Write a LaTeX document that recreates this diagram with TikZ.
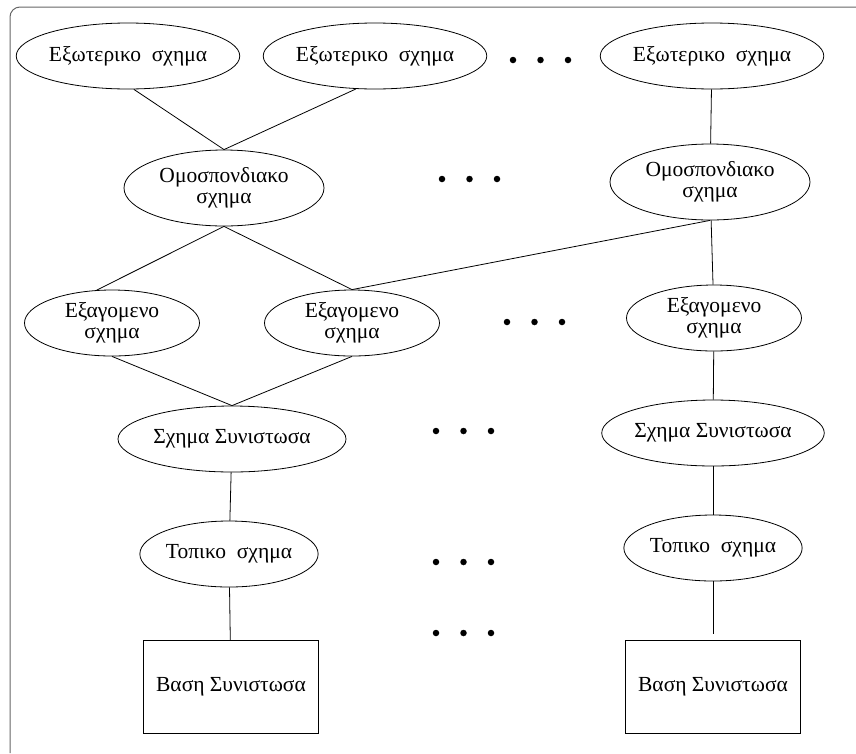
\documentclass[tikz,border=0pt]{standalone}
\usepackage{fontspec}
\setmainfont{Liberation Serif}
\usetikzlibrary{shapes.geometric}

\begin{document}
\begin{tikzpicture}[
  x=1pt, y=-1pt,
  line width=0.8pt,
  schema_node/.style={ellipse, draw, inner sep=0pt, minimum height=66pt, align=center,
    font=\fontsize{21.5pt}{21pt}\selectfont},
  base_node/.style={rectangle, draw, inner sep=0pt, minimum width=175pt, minimum height=93pt,
    font=\fontsize{21.5pt}{21pt}\selectfont},
  dot_node/.style={circle, fill, inner sep=0pt, minimum size=6.5pt},
]
\useasboundingbox (0,0) rectangle (856,753);
% frame
\draw[black!60, line width=1pt, rounded corners=10pt] (10,753) -- (10,7) -- (856,7);

% external schemata
\draw (128,56) node (E1) [schema_node, minimum width=218pt] {Εξωτερικο\ \ σχημα};
\draw (375,56) node (E2) [schema_node, minimum width=220pt] {Εξωτερικο\ \ σχημα};
\draw (712,56) node (E3) [schema_node, minimum width=220pt] {Εξωτερικο\ \ σχημα};

% federated schemata
\draw (224,188) node (O1) [schema_node, minimum width=200pt, minimum height=76pt] {Ομοσπονδιακο\\σχημα};
\draw (710,182) node (O2) [schema_node, minimum width=200pt, minimum height=76pt] {Ομοσπονδιακο\\σχημα};

% export schemata
\draw (112,323) node (X1) [schema_node, minimum width=175pt] {Εξαγομενο\\σχημα};
\draw (352,323) node (X2) [schema_node, minimum width=175pt] {Εξαγομενο\\σχημα};
\draw (714,318) node (X3) [schema_node, minimum width=175pt] {Εξαγομενο\\σχημα};

% component schemata
\draw (232,439) node (S1) [schema_node, minimum width=228pt] {Σχημα Συνιστωσα};
\draw (713,433) node (S2) [schema_node, minimum width=220pt] {Σχημα Συνιστωσα};

% local schemata
\draw (229,554) node (T1) [schema_node, minimum width=175pt] {Τοπικο\ \ σχημα};
\draw (713,548) node (T2) [schema_node, minimum width=175pt] {Τοπικο\ \ σχημα};

% component databases
\draw (231,687) node (B1) [base_node] {Βαση Συνιστωσα};
\draw (713,687) node (B2) [base_node] {Βαση Συνιστωσα};

% dots
\foreach \row/\y/\xa in {a/60/513, b/179/442, c/322/507, d/431/436, e/562/436, f/633/436}
  \foreach \i in {0,1,2}
    \draw (\xa+27.5*\i,\y) node (dot\row\i) [dot_node] {};

% connectors
\draw (E1.280) -- (O1.north);
\draw (E2.240) -- (O1.north);
\draw (E3) -- (O2);
\draw (O1.south) -- (X1.115);
\draw (O1.south) -- (X2.north);
\draw (O2.south) -- (X2.north);
\draw (O2) -- (X3);
\draw (X1.south) -- (S1.north);
\draw (X2.south) -- (S1.north);
\draw (X3) -- (S2);
\draw (S1) -- (T1);
\draw (S2) -- (T2);
\draw (T1) -- (B1);
\draw[shorten >=6pt] (T2) -- (B2);
\end{tikzpicture}
\end{document}
